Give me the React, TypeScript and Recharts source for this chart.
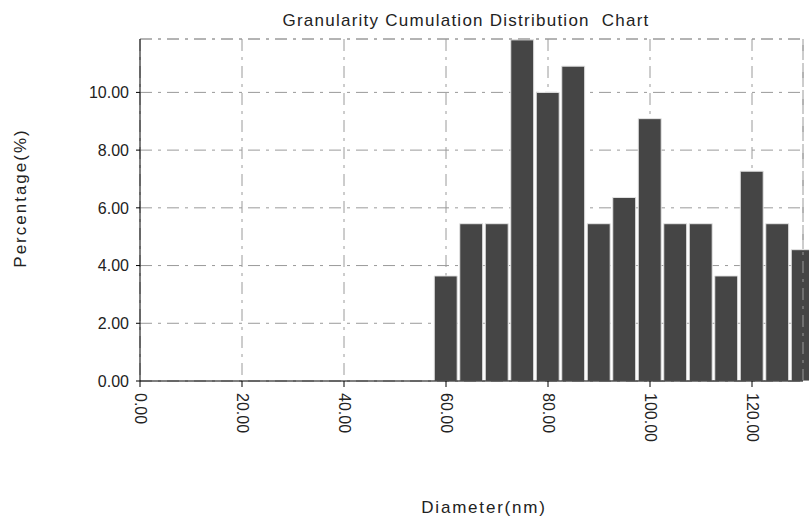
import React from 'react';
import { BarChart, Bar, XAxis, YAxis, CartesianGrid, ReferenceLine } from 'recharts';

const diameters = [60, 65, 70, 75, 80, 85, 90, 95, 100, 105, 110, 115, 120, 125, 130];
const percentages = [3.64, 5.45, 5.45, 11.82, 10.0, 10.91, 5.45, 6.36, 9.09, 5.45, 5.45, 3.64, 7.27, 5.45, 4.55];
const xTicks = [0, 20, 40, 60, 80, 100, 120];
const yTicks = [0, 2, 4, 6, 8, 10];
const X_MAX = 130;
const Y_MAX = 11.85;
const BIN_WIDTH = 5;

const TITLE = 'Granularity Cumulation Distribution  Chart';
const X_LABEL = 'Diameter(nm)';
const Y_LABEL = 'Percentage(%)';

const data = diameters.map((d, i) => ({ diameter: d, percentage: percentages[i] }));

const W = 809;
const H = 520;
const MARGIN = { top: 39, right: 6, left: 60, bottom: 79 };
const Y_AXIS_W = 80;
const X_AXIS_H = 60;
const PLOT_W = W - MARGIN.left - Y_AXIS_W - MARGIN.right;
const BAR_SIZE = (BIN_WIDTH * PLOT_W) / X_MAX;

const FONT = '"Liberation Sans", Arial, sans-serif';
const TEXT = '#222';
const GRID = '#9a9a9a';
const DASH = '12 6 3 6';

const XTick = (props: any) => {
  const { x, y, payload } = props;
  return (
    <text
      x={x}
      y={y}
      transform={`rotate(90 ${x} ${y})`}
      textAnchor="start"
      dominantBaseline="central"
      fontSize={16}
      fontFamily={FONT}
      fill={TEXT}
    >
      {Number(payload.value).toFixed(2)}
    </text>
  );
};

const labelStyle = (extra: React.CSSProperties): React.CSSProperties => ({
  position: 'absolute',
  whiteSpace: 'pre',
  fontFamily: FONT,
  fontSize: 17,
  color: TEXT,
  lineHeight: 1,
  ...extra,
});

export default function App() {
  return (
    <div style={{ position: 'absolute', left: 0, top: 0, width: W, height: H, background: '#fff' }}>
      <BarChart
        width={W}
        height={H}
        data={data}
        margin={MARGIN}
        barCategoryGap={0}
        barGap={0}
      >
        <CartesianGrid stroke={GRID} strokeDasharray={DASH} />
        <ReferenceLine y={Y_MAX} stroke={GRID} strokeDasharray={DASH} />
        <ReferenceLine x={X_MAX} stroke={GRID} strokeDasharray={DASH} />
        <XAxis
          dataKey="diameter"
          type="number"
          domain={[0, X_MAX]}
          ticks={xTicks}
          interval={0}
          height={X_AXIS_H}
          tickSize={6}
          tickMargin={6}
          axisLine={{ stroke: '#000' }}
          tickLine={{ stroke: '#000' }}
          tick={<XTick />}
        />
        <YAxis
          type="number"
          domain={[0, Y_MAX]}
          ticks={yTicks}
          interval={0}
          allowDataOverflow
          width={Y_AXIS_W}
          tickSize={4}
          tickMargin={7}
          axisLine={{ stroke: '#000' }}
          tickLine={{ stroke: '#000' }}
          tick={{ fontSize: 16, fontFamily: FONT, fill: TEXT }}
          tickFormatter={(v: number) => v.toFixed(2)}
        />
        <Bar
          dataKey="percentage"
          fill="#454545"
          stroke="#e4e4e4"
          strokeWidth={1}
          barSize={BAR_SIZE}
          isAnimationActive={false}
        />
      </BarChart>
      <div style={labelStyle({ left: 466, top: 20, transform: 'translate(-50%, -50%)', letterSpacing: 1.25 })}>
        {TITLE}
      </div>
      <div style={labelStyle({ left: 484, top: 507, transform: 'translate(-50%, -50%)', letterSpacing: 1.8 })}>
        {X_LABEL}
      </div>
      <div
        style={labelStyle({
          left: 20,
          top: 198,
          transform: 'translate(-50%, -50%) rotate(-90deg)',
          letterSpacing: 2,
        })}
      >
        {Y_LABEL}
      </div>
    </div>
  );
}
